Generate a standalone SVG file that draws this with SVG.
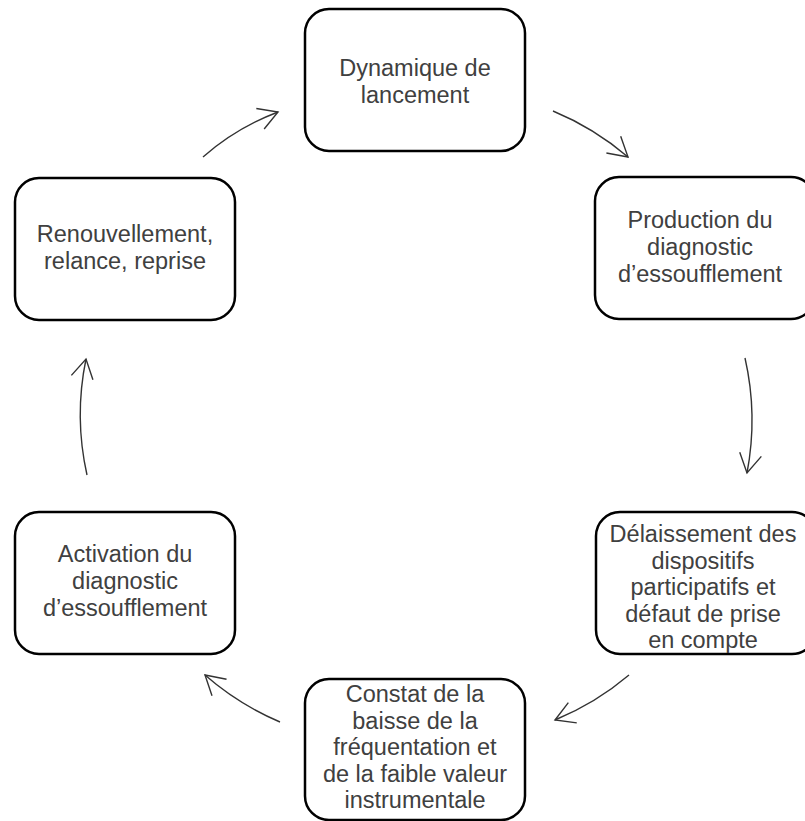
<svg xmlns="http://www.w3.org/2000/svg" width="805" height="821" viewBox="0 0 805 821">
  <defs>
    <style>
      .box { fill: #ffffff; stroke: #000000; stroke-width: 2.5; }
      .lbl { font-family: "Liberation Sans", Arial, sans-serif; font-size: 23.5px; fill: #404040; text-anchor: middle; }
      .arrow { fill: none; stroke: #333333; stroke-width: 1.4; marker-end: url(#head); }
    </style>
    <marker id="head" markerUnits="userSpaceOnUse" markerWidth="22" markerHeight="24" viewBox="0 0 22 24" refX="20" refY="12" orient="auto">
      <path d="M1,1 L20,12 L1,23" fill="none" stroke="#333333" stroke-width="1.4"/>
    </marker>
  </defs>
  <rect width="805" height="821" fill="#ffffff"/>

  <g id="connectors">
    <path class="arrow" d="M203,157 Q236,128 278,112"/>
    <path class="arrow" d="M553,111 Q594,128 628,157"/>
    <path class="arrow" d="M745,358 Q758,415 747,473"/>
    <path class="arrow" d="M629,675 Q596,703 555,720"/>
    <path class="arrow" d="M280,722 Q238,704 205,675"/>
    <path class="arrow" d="M87,475 Q74,417 86,359"/>
  </g>

  <g id="node-dynamique">
    <rect class="box" x="305" y="9" width="220" height="142" rx="24"/>
    <text class="lbl" x="415" y="76">Dynamique de</text>
    <text class="lbl" x="415" y="102.5">lancement</text>
  </g>

  <g id="node-production">
    <rect class="box" x="595" y="177" width="220" height="142" rx="24"/>
    <text class="lbl" x="700" y="228">Production du</text>
    <text class="lbl" x="700" y="255">diagnostic</text>
    <text class="lbl" x="700" y="282">d’essoufflement</text>
  </g>

  <g id="node-delaissement">
    <rect class="box" x="596" y="512" width="220" height="142" rx="24"/>
    <text class="lbl" x="703" y="542">Délaissement des</text>
    <text class="lbl" x="703" y="568.5">dispositifs</text>
    <text class="lbl" x="703" y="595">participatifs et</text>
    <text class="lbl" x="703" y="621.5">défaut de prise</text>
    <text class="lbl" x="703" y="648">en compte</text>
  </g>

  <g id="node-constat">
    <rect class="box" x="305" y="679" width="220" height="141" rx="24"/>
    <text class="lbl" x="415" y="702">Constat de la</text>
    <text class="lbl" x="415" y="728.5">baisse de la</text>
    <text class="lbl" x="415" y="755">fréquentation et</text>
    <text class="lbl" x="415" y="781.5">de la faible valeur</text>
    <text class="lbl" x="415" y="808">instrumentale</text>
  </g>

  <g id="node-activation">
    <rect class="box" x="15" y="512" width="220" height="142" rx="24"/>
    <text class="lbl" x="125" y="562">Activation du</text>
    <text class="lbl" x="125" y="589">diagnostic</text>
    <text class="lbl" x="125" y="616">d’essoufflement</text>
  </g>

  <g id="node-renouvellement">
    <rect class="box" x="15" y="178" width="220" height="142" rx="24"/>
    <text class="lbl" x="125" y="242">Renouvellement,</text>
    <text class="lbl" x="125" y="269">relance, reprise</text>
  </g>
</svg>
